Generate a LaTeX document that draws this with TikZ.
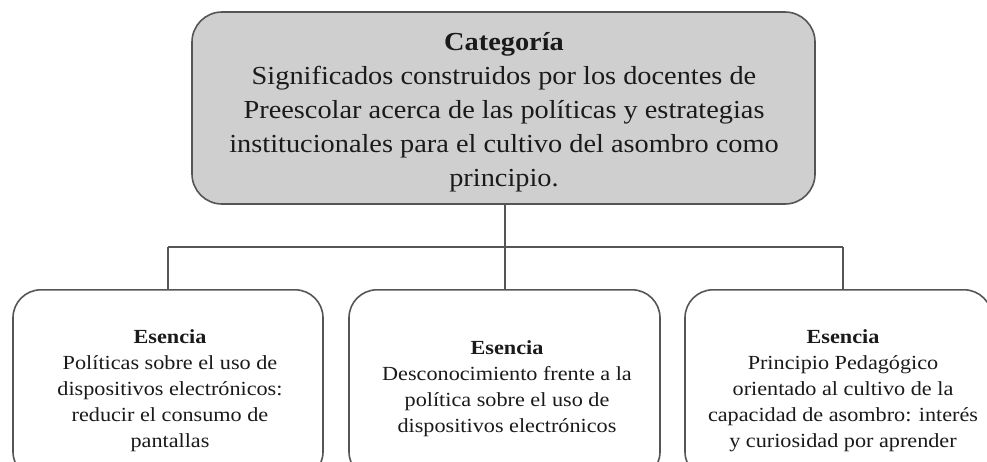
\documentclass[tikz,border=0pt]{standalone}
\usepackage{fontspec}
\setmainfont{Liberation Serif}
\newfontfamily\topfont[FakeStretch=1.09]{Liberation Serif}
\newfontfamily\esfont[FakeStretch=1.11]{Liberation Serif}
\definecolor{boxgray}{HTML}{CFCFCF}
\definecolor{edgegray}{HTML}{555555}
\definecolor{txt}{HTML}{1A1A1A}
\begin{document}
\begin{tikzpicture}[x=1pt,y=-1pt,
  catbox/.style={draw=edgegray, line width=1.6pt, fill=boxgray, rounded corners=30pt, inner sep=0pt},
  esbox/.style={draw=edgegray, line width=1.6pt, fill=white, rounded corners=28pt, inner sep=0pt},
  toptext/.style={align=center, inner sep=0pt, text=txt, font=\topfont\fontsize{26}{34}\selectfont},
  estext/.style={align=center, inner sep=0pt, text=txt, font=\esfont\fontsize{20}{26}\selectfont},
  link/.style={draw=edgegray, line width=1.4pt}]
\useasboundingbox (0,0) rectangle (987,461);
\fill[white] (0,0) rectangle (987,461);
\clip (0,0) rectangle (987,461);
% coordinates of connector
\coordinate (hub) at (505,247);
\coordinate (bl) at (168,247);
\coordinate (br) at (843,247);
% boxes
\node[catbox, minimum width=623pt, minimum height=192pt] (cat) at (503.5,108) {};
\node[esbox, minimum width=310pt, minimum height=190pt, anchor=north] (e1) at (168,289) {};
\node[esbox, minimum width=311pt, minimum height=190pt, anchor=north] (e2) at (504.5,289) {};
\node[esbox, minimum width=307pt, minimum height=190pt, anchor=north] (e3) at (838.5,289) {};
% texts
\node[toptext, anchor=north] (cattext) at (504,32) {\textbf{Categoría}\\Significados construidos por los docentes de\\Preescolar acerca de las políticas y estrategias\\institucionales para el cultivo del asombro como\\principio.};
\node[estext, anchor=north] (t1) at (170,329) {\textbf{Esencia}\\Políticas sobre el uso de\\dispositivos electrónicos:\\reducir el consumo de\\pantallas};
\node[estext, anchor=north] (t2) at (507,340) {\textbf{Esencia}\\Desconocimiento frente a la\\política sobre el uso de\\dispositivos electrónicos};
\node[estext, anchor=north] (t3) at (843,329) {\textbf{Esencia}\\Principio Pedagógico\\orientado al cultivo de la\\capacidad de asombro: interés\\y curiosidad por aprender};
% connectors
\draw[link] (cat.south -| hub) -- (hub);
\draw[link] (bl) -- (br);
\draw[link] (bl) -- (bl |- e1.north);
\draw[link] (hub) -- (hub |- e2.north);
\draw[link] (br) -- (br |- e3.north);
\end{tikzpicture}
\end{document}
